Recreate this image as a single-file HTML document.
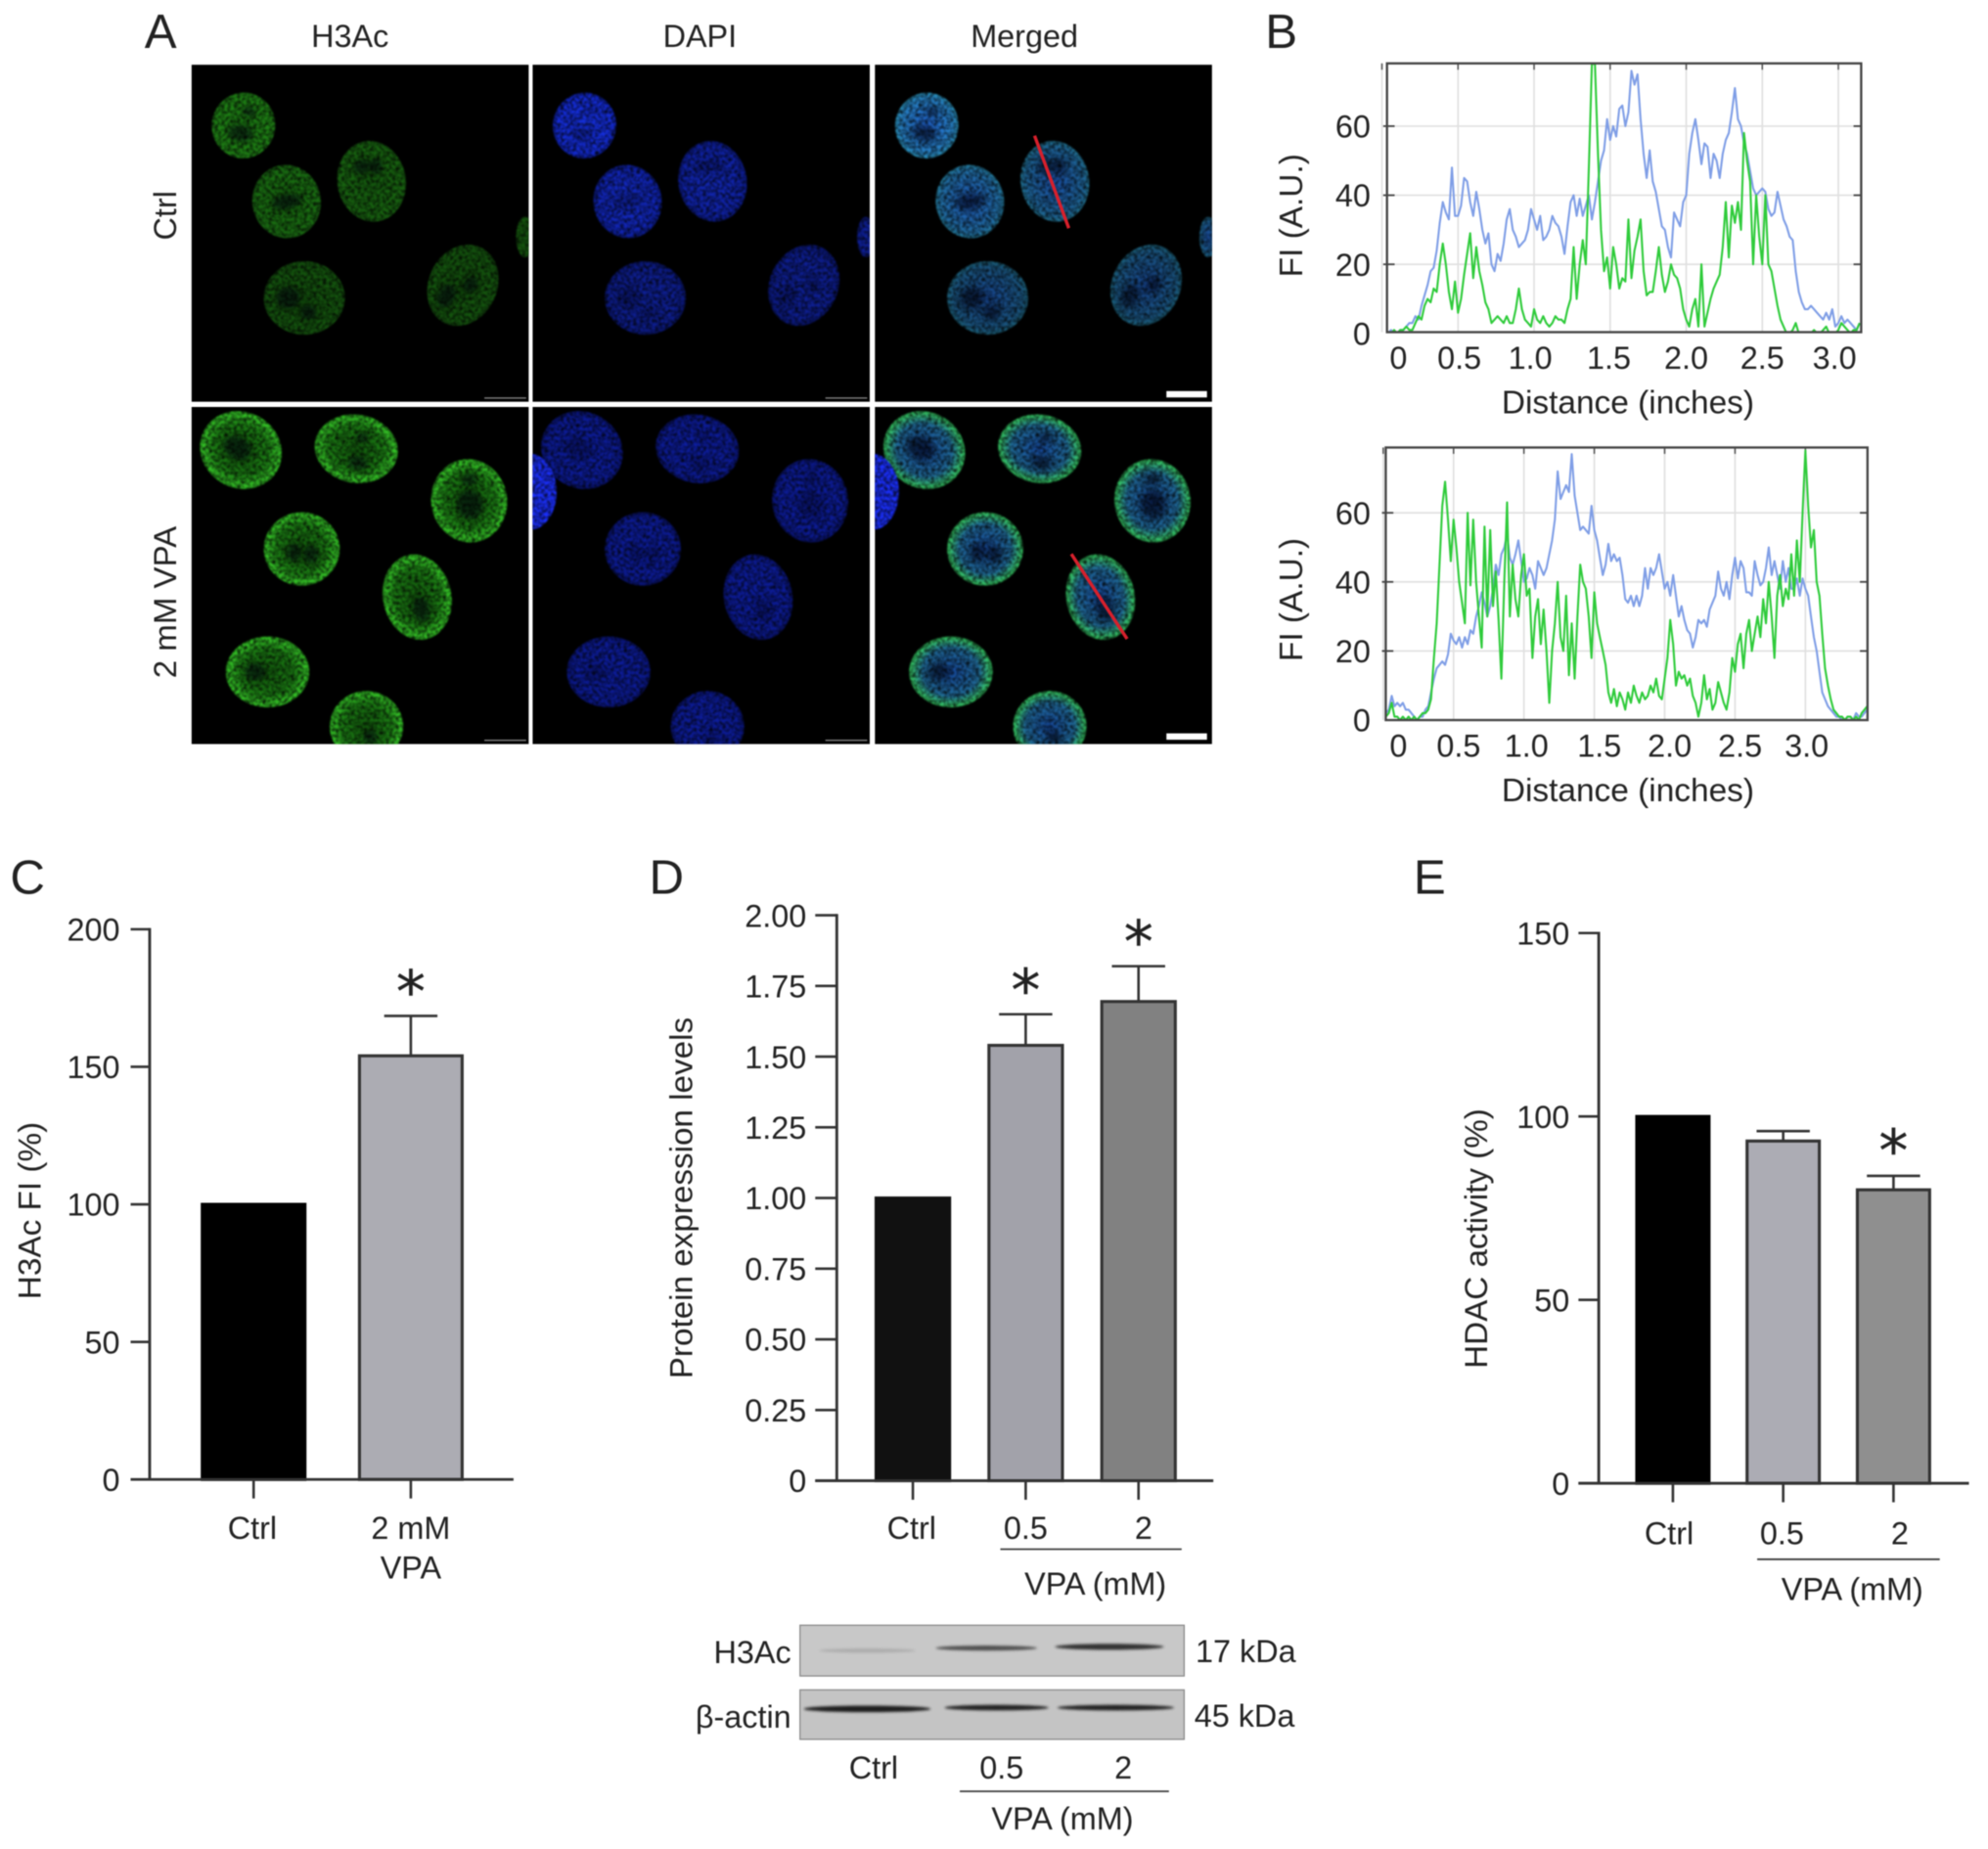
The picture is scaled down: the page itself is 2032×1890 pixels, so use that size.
<!DOCTYPE html>
<html lang="en">
<head>
<meta charset="utf-8">
<title>H3Ac and HDAC activity figure</title>
<style>
html,body{margin:0;padding:0;background:#fff;}
svg#figure{display:block;filter:blur(0.6px);}
text{font-family:"Liberation Sans",sans-serif;fill:#222;}
</style>
</head>
<body>
<svg id="figure" xmlns="http://www.w3.org/2000/svg" width="2032" height="1890" viewBox="0 0 1568 1458.5">
<defs>
<radialGradient id="gCtrlGreen"><stop offset="0" stop-color="#145a0e"/><stop offset="0.8" stop-color="#186610"/><stop offset="1" stop-color="#175e10"/></radialGradient>
<radialGradient id="gVpaGreen"><stop offset="0" stop-color="#125a0c"/><stop offset="0.68" stop-color="#1c8014"/><stop offset="0.92" stop-color="#36c828"/><stop offset="1" stop-color="#2aa81e"/></radialGradient>
<radialGradient id="gCtrlBlue"><stop offset="0" stop-color="#1228b8"/><stop offset="0.85" stop-color="#0f22a8"/><stop offset="1" stop-color="#0a1880"/></radialGradient>
<radialGradient id="gVpaBlue"><stop offset="0" stop-color="#0d1ea4"/><stop offset="0.85" stop-color="#0c1b96"/><stop offset="1" stop-color="#081270"/></radialGradient>
<radialGradient id="gCtrlMerge"><stop offset="0" stop-color="#1a50a8"/><stop offset="0.85" stop-color="#1e6496"/><stop offset="1" stop-color="#20708e"/></radialGradient>
<radialGradient id="gVpaMerge"><stop offset="0" stop-color="#164aa0"/><stop offset="0.68" stop-color="#206a98"/><stop offset="0.92" stop-color="#36c470"/><stop offset="1" stop-color="#2aa84e"/></radialGradient>
<filter id="speckle" filterUnits="userSpaceOnUse" x="0" y="0" width="1568" height="700" color-interpolation-filters="sRGB">
<feTurbulence type="fractalNoise" baseFrequency="0.4" numOctaves="2" seed="7" result="n"/>
<feColorMatrix in="n" type="matrix" values="0 0 0 0 0 0 0 0 0 0 0 0 0 0 0 1.8 0 0 0 -0.6" result="dark"/>
<feComposite in="dark" in2="SourceGraphic" operator="atop" result="tex"/>
<feGaussianBlur in="tex" stdDeviation="0.7"/>
</filter>
<filter id="soft" x="-40%" y="-40%" width="180%" height="180%"><feGaussianBlur stdDeviation="2.4"/></filter>
<filter id="band" x="-10%" y="-200%" width="120%" height="500%"><feGaussianBlur stdDeviation="1.1"/></filter>
</defs>

<!-- Panel letters -->
<text x="114" y="38" font-size="38">A</text>
<text x="998" y="38" font-size="38">B</text>
<text x="8" y="705" font-size="38">C</text>
<text x="512" y="705" font-size="38">D</text>
<text x="1115" y="705" font-size="38">E</text>

<!-- Panel A headers -->
<text x="276" y="37" font-size="25" text-anchor="middle">H3Ac</text>
<text x="552" y="37" font-size="25" text-anchor="middle">DAPI</text>
<text x="808" y="37" font-size="25" text-anchor="middle">Merged</text>
<text transform="translate(139,170) rotate(-90)" font-size="25" text-anchor="middle">Ctrl</text>
<text transform="translate(139,475) rotate(-90)" font-size="25" text-anchor="middle" textLength="120" lengthAdjust="spacingAndGlyphs">2 mM VPA</text>

<g id="micrographs"></g>

<g id="profile-top"></g>
<g id="profile-bottom"></g>
<g id="chart-c"></g>
<g id="chart-d"></g>
<g id="chart-e"></g>

<!-- Western blot -->
<g>
<rect x="631" y="1282" width="303" height="40" fill="#c8c8c8" stroke="#8a8a8a" stroke-width="1"/>
<rect x="631" y="1333" width="303" height="39" fill="#c4c4c4" stroke="#8a8a8a" stroke-width="1"/>
<ellipse cx="684" cy="1302" rx="38" ry="1.6" fill="#acacac" filter="url(#band)"/>
<ellipse cx="778" cy="1300" rx="40" ry="2" fill="#505050" filter="url(#band)"/>
<ellipse cx="875" cy="1299" rx="43" ry="2.4" fill="#333" filter="url(#band)"/>
<ellipse cx="684" cy="1348" rx="50" ry="2.6" fill="#1c1c1c" filter="url(#band)"/>
<ellipse cx="786" cy="1347" rx="41" ry="2.2" fill="#222" filter="url(#band)"/>
<ellipse cx="880" cy="1347" rx="46" ry="2.2" fill="#222" filter="url(#band)"/>
<text x="624" y="1312" font-size="25" text-anchor="end">H3Ac</text>
<text x="624" y="1363" font-size="25" text-anchor="end">β-actin</text>
<text x="943" y="1311" font-size="25">17 kDa</text>
<text x="942" y="1362" font-size="25">45 kDa</text>
<text x="689" y="1403" font-size="25" text-anchor="middle">Ctrl</text>
<text x="790" y="1403" font-size="25" text-anchor="middle">0.5</text>
<text x="886" y="1403" font-size="25" text-anchor="middle">2</text>
<line x1="757" y1="1413" x2="922" y2="1413" stroke="#333" stroke-width="1.3"/>
<text x="838" y="1443" font-size="25" text-anchor="middle">VPA (mM)</text>
</g>

<script>
/* ---------- Panel B data: fluorescence intensity ---------- */
const profileStep = 0.02;
const profileYTicks = [0, 20, 40, 60];
const profileYTickLabels = ['0', '20', '40', '60'];
const profileXTicks = [0, 0.5, 1, 1.5, 2, 2.5, 3];
const profileXTickLabels = ['0', '0.5', '1.0', '1.5', '2.0', '2.5', '3.0'];

const ctrlBlue = [
2,1,0,1,0,0,1,1,2,3,
3,5,4,8,11,14,18,19,24,32,
38,35,33,48,34,34,37,45,44,38,
34,41,36,30,26,29,20,18,23,21,
26,33,36,30,28,25,26,27,30,36,
33,30,34,27,28,30,34,32,31,28,
23,31,38,40,34,39,34,37,40,33,
38,44,50,53,62,56,60,57,65,66,
60,64,76,72,75,62,52,45,53,44,
41,36,31,30,25,22,35,33,31,38,
40,52,58,62,56,49,55,54,45,52,
50,45,52,56,58,64,71,62,60,55,
52,47,42,40,41,42,41,36,34,35,
41,37,33,31,28,27,18,12,9,7,
7,8,7,6,5,4,6,4,7,2,
3,5,3,4,3,2,1,3];

const ctrlGreen = [
3,1,0,0,1,0,1,1,2,1,
1,3,5,4,8,10,9,13,12,20,
26,20,12,7,15,6,10,17,23,29,
16,25,18,14,9,7,3,4,5,4,
3,5,3,3,7,13,7,4,3,2,
7,4,3,5,3,2,3,5,4,4,
3,7,10,25,10,20,27,20,48,78,
78,52,30,18,22,13,25,20,13,16,
15,33,16,24,28,33,18,11,12,12,
18,25,17,12,15,20,17,16,13,7,
4,2,7,10,2,20,2,6,10,13,
15,17,25,38,22,37,32,38,30,58,
50,44,20,40,28,20,40,20,18,13,
8,4,2,0,0,1,3,0,0,0,
0,0,1,0,0,1,2,0,0,0,
1,3,2,1,0,1,1,3];

const vpaBlue = [
1,2,3,7,4,5,4,5,3,3,
2,1,0,1,1,3,4,8,12,15,
16,17,16,19,25,23,22,24,21,24,
22,26,25,30,33,37,34,30,33,38,
45,42,48,50,54,47,45,48,52,46,
40,41,44,42,38,46,44,42,44,48,
52,58,72,64,66,68,66,77,65,60,
55,56,55,54,62,55,52,47,42,45,
51,46,48,46,47,42,35,34,36,33,
36,33,36,44,38,44,42,44,48,43,
38,40,36,42,36,30,33,29,26,25,
21,24,29,28,29,27,32,34,36,43,
38,36,40,35,42,47,41,46,44,37,
37,36,46,42,39,40,44,50,42,46,
42,38,46,40,44,38,38,41,36,41,
38,36,30,24,20,14,8,6,4,3,
2,1,1,0,0,1,1,0,2,1,
1,2,3];

const vpaGreen = [
3,1,2,5,1,1,0,1,0,1,
0,1,0,1,2,2,3,6,18,28,
45,62,69,58,46,58,50,40,34,28,
60,39,58,40,30,21,56,30,55,33,
43,29,12,40,63,30,45,35,30,42,
48,36,38,18,30,35,22,32,20,5,
20,28,40,24,20,36,13,28,12,30,
45,40,38,30,18,37,28,24,20,16,
8,5,9,4,8,6,3,8,5,10,
7,5,8,6,7,10,8,12,7,6,
12,18,29,22,10,14,12,13,10,12,
7,5,1,5,13,6,9,3,5,11,
8,5,3,8,18,14,22,25,15,25,
29,20,25,30,24,35,28,40,30,18,
36,42,33,38,35,48,36,52,40,60,
78,62,50,55,40,36,25,15,10,6,
3,2,1,1,0,1,1,0,1,0,
2,3,4];

/* ---------- Panel C data ---------- */
const cCategories = ['Ctrl', '2 mM VPA'];
const cValues = [100, 154];
const cErrors = [0, 14.5];
const cSignificant = [false, true];
const cTicks = [0, 50, 100, 150, 200];
const cTickLabels = ['0', '50', '100', '150', '200'];

/* ---------- Panel D data ---------- */
const dCategories = ['Ctrl', '0.5', '2'];
const dValues = [1.0, 1.54, 1.695];
const dErrors = [0, 0.11, 0.125];
const dSignificant = [false, true, true];
const dTicks = [0, 0.25, 0.5, 0.75, 1, 1.25, 1.5, 1.75, 2];
const dTickLabels = ['0', '0.25', '0.50', '0.75', '1.00', '1.25', '1.50', '1.75', '2.00'];

/* ---------- Panel E data ---------- */
const eCategories = ['Ctrl', '0.5', '2'];
const eValues = [100, 93.3, 80];
const eErrors = [0, 2.7, 3.8];
const eSignificant = [false, false, true];
const eTicks = [0, 50, 100, 150];
const eTickLabels = ['0', '50', '100', '150'];

const NS = 'http://www.w3.org/2000/svg';
function mk(tag, attrs, parent, txt) {
  const el = document.createElementNS(NS, tag);
  for (const k in attrs) el.setAttribute(k, attrs[k]);
  if (txt !== undefined) el.textContent = txt;
  parent.appendChild(el);
  return el;
}

/* ---------- Line profile charts ---------- */
function drawProfile(root, cfg, blue, green) {
  const x = v => cfg.x0 + v * cfg.xPerUnit;
  const y = v => cfg.y0 - v * cfg.yPerUnit;

  const bg = mk('rect', {x: cfg.left, y: cfg.top, width: cfg.right - cfg.left, height: cfg.bottom - cfg.top, fill: '#fff'}, root);
  
  

  profileXTicks.forEach((t, i) => {
    const gx = mk('line', {x1: x(t), x2: x(t), y1: cfg.top, y2: cfg.bottom, stroke: '#e0e0e0', 'stroke-width': 1.3}, root);
    
    
    const tb = mk('line', {x1: x(t), x2: x(t), y1: cfg.top, y2: cfg.top + 5, stroke: '#555', 'stroke-width': 1.2}, root);
    
    
    const lb = mk('text', {x: x(t) + cfg.labelShift[i], y: cfg.tickLabelY, 'font-size': 25, 'text-anchor': 'middle'}, root, profileXTickLabels[i]);
    
    
  });
  profileYTicks.forEach((t, i) => {
    if (t > 0) {
      const gy = mk('line', {x1: cfg.left, x2: cfg.right, y1: y(t), y2: y(t), stroke: '#e0e0e0', 'stroke-width': 1.3}, root);
      
      
      const tk = mk('line', {x1: cfg.left - 3, x2: cfg.left + 6, y1: y(t), y2: y(t), stroke: '#444', 'stroke-width': 1.4}, root);
      
      
      const tr = mk('line', {x1: cfg.right - 6, x2: cfg.right, y1: y(t), y2: y(t), stroke: '#444', 'stroke-width': 1.4}, root);
      
      
    }
    const lb = mk('text', {x: 1081, y: y(t) + 9, 'font-size': 25, 'text-anchor': 'end'}, root, profileYTickLabels[i]);
    
    
  });

  const clip = mk('svg', {x: cfg.left, y: cfg.top, width: cfg.right - cfg.left, height: cfg.bottom - cfg.top,
    viewBox: cfg.left + ' ' + cfg.top + ' ' + (cfg.right - cfg.left) + ' ' + (cfg.bottom - cfg.top)}, root);
  
  
  const toPts = arr => arr.map((v, i) => x(i * profileStep).toFixed(1) + ',' + y(v).toFixed(1)).join(' ');
  const lb = mk('polyline', {points: toPts(blue), fill: 'none', stroke: '#7f9ee6', 'stroke-width': 1.6, 'stroke-linejoin': 'round'}, clip);
  
  
  const lg = mk('polyline', {points: toPts(green), fill: 'none', stroke: '#2ecb3a', 'stroke-width': 1.6, 'stroke-linejoin': 'round'}, clip);
  
  

  const frame = mk('rect', {x: cfg.left, y: cfg.top, width: cfg.right - cfg.left, height: cfg.bottom - cfg.top, fill: 'none', stroke: '#444', 'stroke-width': 1.8}, root);
  
  

  const xt = mk('text', {x: 1284, y: cfg.xTitleY, 'font-size': 25.8, 'text-anchor': 'middle'}, root, 'Distance (inches)');
  
  
  const yt = mk('text', {transform: 'translate(1027,' + cfg.yTitleY + ') rotate(-90)', 'font-size': 25.8, 'text-anchor': 'middle'}, root, 'FI (A.U.)');
  
  
}

drawProfile(document.getElementById('profile-top'), {
  left: 1094, right: 1468, top: 50, bottom: 262, x0: 1090, xPerUnit: 120, y0: 263, yPerUnit: 2.725,
  tickLabelY: 291, labelShift: [13, 1, -3, -1, 0, 0, -3], xTitleY: 326, yTitleY: 170
}, ctrlBlue, ctrlGreen);
drawProfile(document.getElementById('profile-bottom'), {
  left: 1093, right: 1473, top: 353, bottom: 568, x0: 1091, xPerUnit: 111, y0: 568, yPerUnit: 2.725,
  tickLabelY: 597, labelShift: [12, 4, 2, 4, 4, 4, 1], xTitleY: 632, yTitleY: 473
}, vpaBlue, vpaGreen);

/* ---------- Bar charts ---------- */
function drawBars(root, cfg, categories, values, errors, significant, ticks, tickLabels) {
  const y = v => cfg.y0 - (v / cfg.yMax) * (cfg.y0 - cfg.yTop);
  const x = i => cfg.firstCenter + i * cfg.spacing;

  categories.forEach((cat, i) => {
    const top = y(values[i]);
    const b = mk('rect', {x: x(i) - cfg.barW / 2, y: top, width: cfg.barW, height: cfg.y0 - top,
      fill: cfg.fills[i], stroke: i === 0 ? cfg.fills[0] : '#333', 'stroke-width': 2.4}, root);
    
    

    if (errors[i] > 0) {
      const et = y(values[i] + errors[i]);
      const ev = mk('line', {x1: x(i), x2: x(i), y1: top, y2: et, stroke: '#333', 'stroke-width': 2}, root);
      
      
      const ec = mk('line', {x1: x(i) - cfg.capW, x2: x(i) + cfg.capW, y1: et, y2: et, stroke: '#333', 'stroke-width': 2}, root);
      
      
    }
    if (significant[i]) {
      const top2 = y(values[i] + errors[i]);
      const s = mk('text', {x: x(i), y: top2 + cfg.starDy, 'font-size': 46, 'text-anchor': 'middle', stroke: '#222', 'stroke-width': 0.3, style: 'font-family:"DejaVu Sans",sans-serif'}, root, '*');
      
      
    }
    const t = mk('line', {x1: x(i), x2: x(i), y1: cfg.y0, y2: cfg.y0 + 15, stroke: '#333', 'stroke-width': 2}, root);
    
    
    cfg.catLines[i].forEach((line, k) => {
      const l = mk('text', {x: x(i) + cfg.labelShift[i], y: cfg.labelY + k * 31, 'font-size': 25, 'text-anchor': 'middle'}, root, line);
      
      
    });
  });

  const ya = mk('line', {x1: cfg.axisX, x2: cfg.axisX, y1: cfg.yTop - 1, y2: cfg.y0 + 1, stroke: '#333', 'stroke-width': 2.2}, root);
  
  
  const xa = mk('line', {x1: cfg.axisX - cfg.tickLen, x2: cfg.axisEnd, y1: cfg.y0, y2: cfg.y0, stroke: '#333', 'stroke-width': 2.2}, root);
  
  

  ticks.forEach((t, i) => {
    const tk = mk('line', {x1: cfg.axisX - cfg.tickLen, x2: cfg.axisX, y1: y(t), y2: y(t), stroke: '#333', 'stroke-width': 2}, root);
    
    
    const lb = mk('text', {x: cfg.axisX - cfg.tickLen - cfg.labelGap, y: y(t) + 9, 'font-size': 25, 'text-anchor': 'end'}, root, tickLabels[i]);
    
    
  });

  const yt = mk('text', {transform: 'translate(' + cfg.titleX + ',' + cfg.titleY + ') rotate(-90)', 'font-size': 25,
    'text-anchor': 'middle', textLength: cfg.titleLen, lengthAdjust: 'spacingAndGlyphs'}, root, cfg.title);
  
  

  if (cfg.bracket) {
    const br = mk('line', {x1: cfg.bracket[0], x2: cfg.bracket[1], y1: cfg.bracket[2], y2: cfg.bracket[2], stroke: '#333', 'stroke-width': 1.3}, root);
    
    
    const bl = mk('text', {x: cfg.bracket[3], y: cfg.bracket[4], 'font-size': 25, 'text-anchor': 'middle'}, root, 'VPA (mM)');
    
    
  }
}

drawBars(document.getElementById('chart-c'), {
  y0: 1167, yTop: 733, yMax: 200, firstCenter: 200, spacing: 124, barW: 81, capW: 21, starDy: -3,
  fills: ['#000', '#acacb3'], axisX: 118, axisEnd: 405, tickLen: 15, labelGap: 8.5, labelY: 1214, labelShift: [-1, 0],
  catLines: [['Ctrl'], ['2 mM', 'VPA']], title: 'H3Ac FI (%)', titleX: 32, titleY: 955, titleLen: 140
}, cCategories, cValues, cErrors, cSignificant, cTicks, cTickLabels);

drawBars(document.getElementById('chart-d'), {
  y0: 1168, yTop: 722, yMax: 2, firstCenter: 720, spacing: 89, barW: 58, capW: 21, starDy: -3,
  fills: ['#111', '#a2a2aa', '#818181'], axisX: 660, axisEnd: 957, tickLen: 17, labelGap: 7, labelY: 1214, labelShift: [-1, 0, 4],
  catLines: [['Ctrl'], ['0.5'], ['2']], title: 'Protein expression levels', titleX: 546, titleY: 945, titleLen: 285,
  bracket: [789, 932, 1222, 864, 1258]
}, dCategories, dValues, dErrors, dSignificant, dTicks, dTickLabels);

drawBars(document.getElementById('chart-e'), {
  y0: 1170, yTop: 736, yMax: 150, firstCenter: 1319.5, spacing: 87, barW: 57, capW: 21, starDy: -4,
  fills: ['#000', '#acacb4', '#8f8f8f'], axisX: 1261, axisEnd: 1553, tickLen: 16, labelGap: 7, labelY: 1218, labelShift: [-3, -1, 5],
  catLines: [['Ctrl'], ['0.5'], ['2']], title: 'HDAC activity (%)', titleX: 1173, titleY: 977, titleLen: 205,
  bracket: [1386, 1530, 1230, 1461, 1262]
}, eCategories, eValues, eErrors, eSignificant, eTicks, eTickLabels);

/* ---------- Panel A micrographs ---------- */
const columns = [151, 420, 690];
const rows = [51, 321];
const panelSize = 266;
const ctrlCells = [
  {x:41,y:48,rx:25,ry:26,rot:10,holes:[[0.1,-0.45,0.22,0.15],[-0.05,0.25,0.4,0.25]],glow:1.3},
  {x:75,y:108,rx:27,ry:29,rot:-10,holes:[[0,0,0.45,0.2]],glow:1.1},
  {x:142,y:92,rx:27,ry:32,rot:-10,holes:[[-0.2,-0.4,0.25,0.18],[0.2,-0.35,0.2,0.2]],glow:1},
  {x:89,y:184,rx:32,ry:29,rot:0,holes:[[-0.4,0,0.3,0.3],[0.1,0.4,0.2,0.2]],glow:0.85},
  {x:214,y:174,rx:27,ry:33,rot:25,holes:[[-0.3,0.4,0.25,0.3],[0.2,-0.1,0.2,0.2]],glow:0.85},
  {x:263,y:136,rx:7,ry:16,rot:0,holes:[],glow:0.9}
];
const vpaCells = [
  {x:39,y:34,rx:33,ry:30,rot:30,holes:[[-0.1,0,0.35,0.3]],glow:1},
  {x:130,y:33,rx:33,ry:27,rot:10,holes:[[0.1,-0.35,0.15,0.15],[0.1,0.4,0.25,0.2]],glow:1},
  {x:219,y:74,rx:30,ry:33,rot:-10,holes:[[0,0.1,0.35,0.35],[0.1,-0.5,0.2,0.15]],glow:1},
  {x:87,y:112,rx:30,ry:29,rot:0,holes:[[-0.2,0.1,0.2,0.25],[0.25,0.15,0.2,0.25]],glow:1},
  {x:178,y:150,rx:27,ry:34,rot:-12,holes:[[0.05,0.3,0.25,0.3]],glow:1},
  {x:60,y:209,rx:33,ry:28,rot:0,holes:[[-0.3,0,0.25,0.25]],glow:1},
  {x:138,y:252,rx:29,ry:28,rot:0,holes:[[0.1,0.3,0.2,0.2]],glow:1}
];
const vpaEdgeCell = {x:-2,y:67,rx:21,ry:30,rot:0,holes:[],glow:1.5};

const grid = document.getElementById('micrographs');
const channelNames = ['h3ac', 'dapi', 'merged'];
const fillNames = [['gCtrlGreen', 'gCtrlBlue', 'gCtrlMerge'], ['gVpaGreen', 'gVpaBlue', 'gVpaMerge']];
rows.forEach((ry, r) => {
  columns.forEach((cx, c) => {
    const panel = mk('svg', {x: cx, y: ry, width: panelSize, height: panelSize, viewBox: cx + ' ' + ry + ' ' + panelSize + ' ' + panelSize}, grid);
    
    
    const back = mk('rect', {x: cx, y: ry, width: panelSize, height: panelSize, fill: '#000'}, panel);
    
    
    const tex = mk('g', {filter: 'url(#speckle)'}, panel);
    const cells = r ? vpaCells.slice() : ctrlCells.slice();
    if (r && c > 0) cells.push(vpaEdgeCell);
    cells.forEach(n => {
      const g = mk('g', {transform: 'translate(' + (cx + n.x) + ',' + (ry + n.y) + ') rotate(' + n.rot + ')'}, tex);
      
      
      const fill = (n === vpaEdgeCell) ? '#1220d8' : 'url(#' + fillNames[r][c] + ')';
      mk('ellipse', {cx: 0, cy: 0, rx: n.rx, ry: n.ry, fill: fill, style: 'filter:brightness(' + n.glow + ')'}, g);
      n.holes.forEach(h => {
        mk('ellipse', {cx: h[0] * n.rx, cy: h[1] * n.ry, rx: h[2] * n.rx, ry: h[3] * n.ry, fill: '#02060c', opacity: c === 1 ? 0.3 : 0.6, filter: 'url(#soft)'}, g);
      });
    });
    const mark = mk('line', c === 2
      ? {x1: cx + panelSize - 36, x2: cx + panelSize - 4, y1: ry + panelSize - 6, y2: ry + panelSize - 6, stroke: '#fff', 'stroke-width': 5}
      : {x1: cx + panelSize - 35, x2: cx + panelSize - 2, y1: ry + panelSize - 3, y2: ry + panelSize - 3, stroke: '#777', 'stroke-width': 1.2}, panel);
    
    
    if (c === 2) {
      const red = mk('line', r
        ? {x1: cx + 155, y1: ry + 116, x2: cx + 199, y2: ry + 183, stroke: '#d8202c', 'stroke-width': 2.6}
        : {x1: cx + 126, y1: ry + 56, x2: cx + 153, y2: ry + 129, stroke: '#d8202c', 'stroke-width': 2.6}, panel);
      
      
    }
  });
});
</script>
</svg>
</body>
</html>
